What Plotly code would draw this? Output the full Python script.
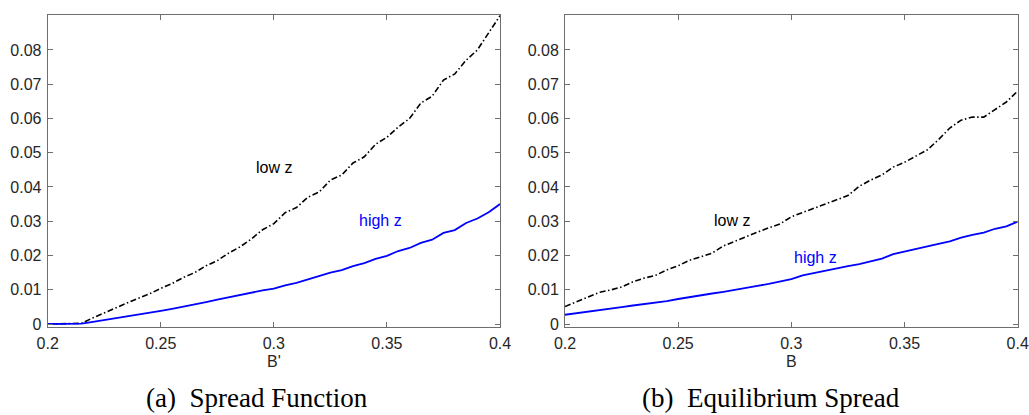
import plotly.graph_objects as go

x_vals = [round(0.2 + 0.005 * i, 3) for i in range(41)]

left_low_z = [0, 0, 0, 0.0002, 0.0018, 0.0033, 0.0046, 0.0061, 0.0075, 0.0088,
              0.0104, 0.0118, 0.0136, 0.0150, 0.0170, 0.0185, 0.0207, 0.0225, 0.0248, 0.0275,
              0.0293, 0.0325, 0.0340, 0.0370, 0.0385, 0.0420, 0.0435, 0.0470, 0.0488, 0.0525,
              0.0545, 0.0575, 0.0600, 0.0645, 0.0665, 0.0712, 0.0730, 0.0770, 0.0800, 0.0850,
              0.0900]
left_high_z = [0, 0, 0, 0.0001, 0.0006, 0.0011, 0.0016, 0.0021, 0.0026, 0.0032,
               0.0038, 0.0044, 0.0050, 0.0056, 0.0064, 0.0071, 0.0078, 0.0085, 0.0091, 0.0098,
               0.0103, 0.0113, 0.0120, 0.0130, 0.0138, 0.0150, 0.0157, 0.0169, 0.0178, 0.0190,
               0.0199, 0.0213, 0.0222, 0.0237, 0.0246, 0.0266, 0.0274, 0.0295, 0.0308, 0.0326,
               0.0350]
right_low_z = [0.0051, 0.0065, 0.0077, 0.0092, 0.0099, 0.0108, 0.0123, 0.0134, 0.0142, 0.0158,
               0.0170, 0.0186, 0.0196, 0.0207, 0.0228, 0.0242, 0.0255, 0.0268, 0.0281, 0.0292,
               0.0313, 0.0325, 0.0339, 0.0351, 0.0361, 0.0375, 0.0402, 0.0420, 0.0435, 0.0458,
               0.0472, 0.0490, 0.0508, 0.0538, 0.0572, 0.0595, 0.0604, 0.0604, 0.0625, 0.0648,
               0.0680]
right_high_z = [0.0027, 0.0031, 0.0036, 0.0040, 0.0044, 0.0049, 0.0054, 0.0058, 0.0063, 0.0067,
                0.0073, 0.0079, 0.0083, 0.0089, 0.0094, 0.0099, 0.0106, 0.0111, 0.0117, 0.0125,
                0.0131, 0.0142, 0.0149, 0.0155, 0.0164, 0.0169, 0.0175, 0.0184, 0.0191, 0.0204,
                0.0212, 0.0219, 0.0227, 0.0234, 0.0241, 0.0252, 0.0260, 0.0267, 0.0278, 0.0285,
                0.0299]

x_ticks = [0.2, 0.25, 0.3, 0.35, 0.4]
x_tick_labels = ["0.2", "0.25", "0.3", "0.35", "0.4"]
y_ticks = [0, 0.01, 0.02, 0.03, 0.04, 0.05, 0.06, 0.07, 0.08]
y_tick_labels = ["0", "0.01", "0.02", "0.03", "0.04", "0.05", "0.06", "0.07", "0.08"]

captions = ["(a)  Spread Function", "(b)  Equilibrium Spread"]
x_titles = ["B'", "B"]

W, H = 1029, 415
axis_col = "#6e6e6e"
tick_font = dict(family="Liberation Sans, Arial", size=16, color="#262626")
dash_style = "6px,2.5px,1.5px,2.5px"

fig = go.Figure()
fig.add_trace(go.Scatter(x=x_vals, y=left_low_z, mode="lines", xaxis="x", yaxis="y",
                         line=dict(color="black", width=1.6, dash=dash_style), showlegend=False))
fig.add_trace(go.Scatter(x=x_vals, y=left_high_z, mode="lines", xaxis="x", yaxis="y",
                         line=dict(color="#0000ff", width=1.8), showlegend=False))
fig.add_trace(go.Scatter(x=x_vals, y=right_low_z, mode="lines", xaxis="x2", yaxis="y2",
                         line=dict(color="black", width=1.6, dash=dash_style), showlegend=False))
fig.add_trace(go.Scatter(x=x_vals, y=right_high_z, mode="lines", xaxis="x2", yaxis="y2",
                         line=dict(color="#0000ff", width=1.8), showlegend=False))

y_dom = [1 - 326.5 / H, 1 - 15 / H]
x_dom1 = [47.7 / W, 500 / W]
x_dom2 = [565 / W, 1017.7 / W]
y_range = [-0.00073, 0.0902]

def xaxis(dom, anchor, title):
    return dict(domain=dom, anchor=anchor, range=[0.2, 0.4], tickvals=x_ticks, ticktext=x_tick_labels,
                ticks="inside", ticklen=5, tickcolor=axis_col, showline=True, linecolor=axis_col,
                linewidth=1, mirror="ticks", showgrid=False, zeroline=False, tickfont=tick_font,
                ticklabeloverflow="allow", ticklabelstandoff=2, automargin=False,
                title=dict(text=title, font=tick_font, standoff=5))

def yaxis(anchor):
    return dict(domain=y_dom, anchor=anchor, range=y_range, tickvals=y_ticks, ticktext=y_tick_labels,
                ticks="inside", ticklen=5, tickcolor=axis_col, showline=True, linecolor=axis_col,
                linewidth=1, mirror="ticks", showgrid=False, zeroline=False, tickfont=tick_font,
                ticklabeloverflow="allow", ticklabelstandoff=2, automargin=False)

fig.update_layout(
    width=W, height=H,
    margin=dict(l=0, r=0, t=0, b=0, autoexpand=False),
    paper_bgcolor="white", plot_bgcolor="white",
    xaxis=xaxis(x_dom1, "y", x_titles[0]),
    yaxis=yaxis("x"),
    xaxis2=xaxis(x_dom2, "y2", x_titles[1]),
    yaxis2=yaxis("x2"),
)

ann_font_k = dict(family="Liberation Sans, Arial", size=16, color="black")
ann_font_b = dict(family="Liberation Sans, Arial", size=16, color="#0000ff")
fig.add_annotation(x=0.3, y=0.0456, xref="x", yref="y", text="low z", showarrow=False, font=ann_font_k)
fig.add_annotation(x=0.347, y=0.0302, xref="x", yref="y", text="high z", showarrow=False, font=ann_font_b)
fig.add_annotation(x=0.2737, y=0.0303, xref="x2", yref="y2", text="low z", showarrow=False, font=ann_font_k)
fig.add_annotation(x=0.3106, y=0.0195, xref="x2", yref="y2", text="high z", showarrow=False, font=ann_font_b)

cap_font = dict(family="Liberation Serif, DejaVu Serif, serif", size=27, color="black")
fig.add_annotation(x=257 / W, y=1 - 398 / H, xref="paper", yref="paper", text=captions[0],
                   showarrow=False, font=cap_font, xanchor="center", yanchor="middle")
fig.add_annotation(x=771 / W, y=1 - 398 / H, xref="paper", yref="paper", text=captions[1],
                   showarrow=False, font=cap_font, xanchor="center", yanchor="middle")

fig.write_html("out.html", config={"displayModeBar": False},
               post_script="document.body.style.margin='0px';document.body.style.overflow='hidden';")
